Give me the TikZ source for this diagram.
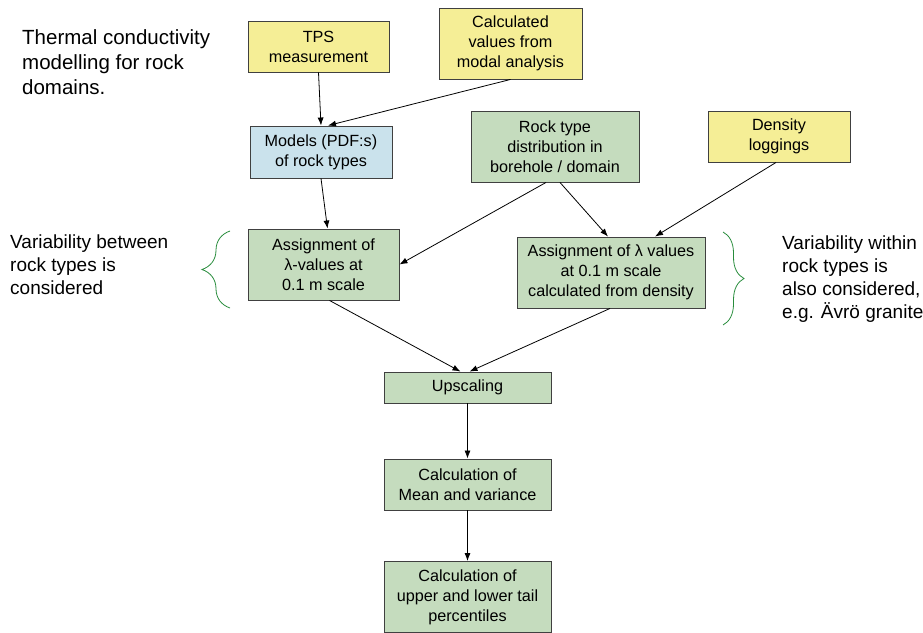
\documentclass[tikz,border=0pt]{standalone}
\usepackage{fontspec}
\setmainfont{Liberation Sans}
\usetikzlibrary{arrows.meta,positioning,decorations.pathreplacing}
\definecolor{boxyellow}{RGB}{245,238,150}
\definecolor{boxblue}{RGB}{202,226,236}
\definecolor{boxgreen}{RGB}{197,220,190}
\definecolor{bracegreen}{RGB}{40,140,60}
\begin{document}
\begin{tikzpicture}[
    x=1pt, y=-1pt,
    font=\fontsize{16.2}{20}\selectfont,
    box/.style={rectangle, draw=black!75, line width=0.9pt, align=center, inner sep=0pt},
    arr/.style={-{Latex[length=8pt,width=6pt]}, line width=0.8pt},
    side/.style={align=left, anchor=north west, inner sep=0pt, font=\fontsize{19}{23}\selectfont},
    grp/.style={draw=bracegreen, line width=0.8pt, decorate, decoration={brace, amplitude=#1}},
  ]
    \useasboundingbox (0,0) rectangle (923,632);

    \node[side, font=\fontsize{20.5}{25}\selectfont] (title) at (22,29) {Thermal conductivity\\modelling for rock\\domains.};

    \node[box, fill=boxyellow, minimum width=141pt, minimum height=51pt] (tps) at (318.5,46.5) {TPS\\measurement};
    \node[box, fill=boxyellow, minimum width=143pt, minimum height=71pt] (calc) at (510.5,43.5) {Calculated\\values from\\modal analysis};
    \node[box, fill=boxblue, minimum width=142pt, minimum height=52pt] (pdf) at (321,152) {Models (PDF:s)\\of rock types};
    \node[box, fill=boxgreen, minimum width=168pt, minimum height=71pt] (dist) at (555,146.5) {Rock type\\distribution in\\borehole / domain};
    \node[box, fill=boxyellow, minimum width=142pt, minimum height=51pt] (dens) at (779,136.5) {Density\\loggings};
    \node[box, fill=boxgreen, minimum width=151pt, minimum height=71pt] (asgl) at (323.5,264.5) {Assignment of\\λ-values at\\0.1 m scale};
    \node[box, fill=boxgreen, minimum width=188pt, minimum height=71pt] (asgr) at (611,272.5) {Assignment of λ values\\at 0.1 m scale\\calculated from density};
    \node[box, fill=boxgreen, minimum width=167pt, minimum height=31pt] (up) at (467.5,387.5) {Upscaling};
    \node[box, fill=boxgreen, minimum width=167pt, minimum height=51pt] (mean) at (467.5,484.5) {Calculation of\\Mean and variance};
    \node[box, fill=boxgreen, minimum width=167pt, minimum height=71pt] (tail) at (467.5,597) {Calculation of\\upper and lower tail\\percentiles};

    \node[side] (betw) at (10,235) {Variability between\\rock types is\\considered};
    \node[side] (with) at (782,236) {Variability within\\rock types is\\also considered,\\e.g. Ävrö granite};

    % braces
    \draw[grp=28pt] (230,308) -- (230,231);
    \draw[grp=21pt] (723,232) -- (723,325);

    \draw[arr] (tps.south) -- (pdf.north);
    \draw[arr] (calc.south) -- ([xshift=7pt]pdf.north);
    \draw[arr] (pdf.south) -- ([xshift=4pt]asgl.north);
    \draw[arr] ([xshift=-9pt]dist.south) -- (asgl.east);
    \draw[arr] ([xshift=5pt]dist.south) -- ([xshift=-3pt]asgr.north);
    \draw[arr] ([xshift=-3pt]dens.south) -- ([xshift=44pt]asgr.north);
    \draw[arr] ([xshift=6pt]asgl.south) -- ([xshift=-7pt]up.north);
    \draw[arr] ([xshift=-1pt]asgr.south) -- ([xshift=2pt]up.north);
    \draw[arr] (up) -- (mean);
    \draw[arr] (mean) -- (tail);
  \end{tikzpicture}
\end{document}
